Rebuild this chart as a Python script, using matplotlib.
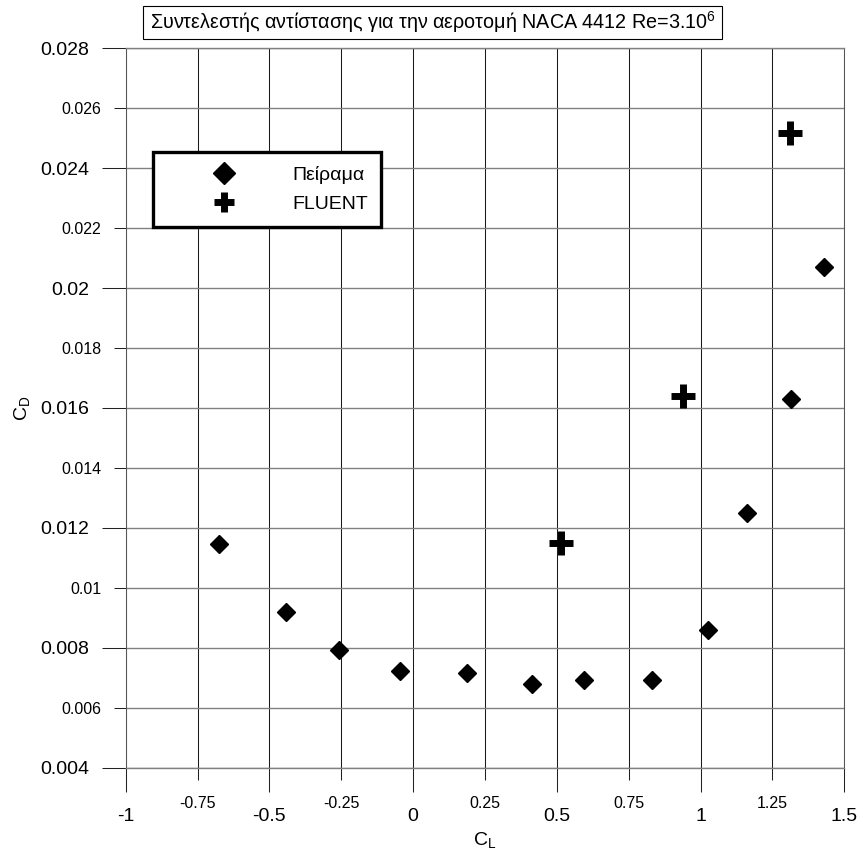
import matplotlib
matplotlib.use('Agg')
import matplotlib.pyplot as plt
from matplotlib.patches import Rectangle
from matplotlib.ticker import FixedLocator, FuncFormatter

plt.rcParams['font.family'] = ['Liberation Sans', 'DejaVu Sans']
plt.rcParams['mathtext.fontset'] = 'custom'
plt.rcParams['mathtext.rm'] = 'Liberation Sans'
plt.rcParams['mathtext.it'] = 'Liberation Sans:italic'
plt.rcParams['mathtext.bf'] = 'Liberation Sans:bold'

# Πείραμα (πειραματικά δεδομένα)
exp_cl = [-0.675, -0.443, -0.258, -0.044, 0.187, 0.412, 0.595, 0.831, 1.025, 1.163, 1.316, 1.428]
exp_cd = [0.01147, 0.00919, 0.00791, 0.00721, 0.00715, 0.00679, 0.00691, 0.00692, 0.00858, 0.01251, 0.0163, 0.0207]

# FLUENT
fluent_cl = [0.516, 0.939, 1.31]
fluent_cd = [0.01151, 0.01639, 0.02517]

x_major = [-1, -0.5, 0, 0.5, 1, 1.5]
x_minor = [-0.75, -0.25, 0.25, 0.75, 1.25]
y_major = [0.004, 0.008, 0.012, 0.016, 0.02, 0.024, 0.028]
y_minor = [0.006, 0.01, 0.014, 0.018, 0.022, 0.026]

fig = plt.figure(figsize=(8.63, 8.55), dpi=100)
ax = fig.add_axes([0.14566, 0.10211, 0.83267, 0.8414])

ax.plot(exp_cl, exp_cd, linestyle='none', marker='D', markersize=9,
        color='black', label='Πείραμα', zorder=3)
ax.plot(fluent_cl, fluent_cd, linestyle='none', marker='+', markersize=17,
        markeredgewidth=5, color='black', label='FLUENT', zorder=3)

ax.set_xlim(-1, 1.5)
ax.set_ylim(0.004, 0.028)

ax.xaxis.set_major_locator(FixedLocator(x_major))
ax.xaxis.set_minor_locator(FixedLocator(x_minor))
ax.yaxis.set_major_locator(FixedLocator(y_major))
ax.yaxis.set_minor_locator(FixedLocator(y_minor))
fmt = FuncFormatter(lambda v, p: '%g' % round(v, 4))
ax.xaxis.set_major_formatter(fmt)
ax.xaxis.set_minor_formatter(fmt)
ax.yaxis.set_major_formatter(fmt)
ax.yaxis.set_minor_formatter(fmt)

ax.tick_params(which='major', direction='out', length=17.3, width=0.75,
               color='#222222', labelsize=14)
ax.tick_params(which='minor', direction='out', length=8.6, width=0.75,
               color='#222222', labelsize=11.5)
ax.tick_params(axis='x', which='both', pad=12)
ax.tick_params(axis='y', which='both', pad=9)

ax.xaxis.grid(True, which='both', color='#1a1a1a', linewidth=0.75)
ax.yaxis.grid(True, which='both', color='#808080', linewidth=1.0)
ax.set_axisbelow(True)

for s in ['left', 'right']:
    ax.spines[s].set_color('#555555')
    ax.spines[s].set_linewidth(0.75)
for s in ['top', 'bottom']:
    ax.spines[s].set_color('#808080')
    ax.spines[s].set_linewidth(1.0)

ax.set_xlabel('$\\mathregular{C_L}$', fontsize=14, labelpad=3)
ax.set_ylabel('$\\mathregular{C_D}$', fontsize=14, labelpad=6)

leg = ax.legend(loc='upper left', bbox_to_anchor=(153 / 863, 1 - 152 / 855),
                bbox_transform=fig.transFigure, borderaxespad=0, numpoints=1,
                fontsize=14, handlelength=5.9, handletextpad=0.55,
                borderpad=0.7, labelspacing=0.62, fancybox=False,
                framealpha=1, edgecolor='black')
leg.get_frame().set_linewidth(2.4)
leg.legend_handles[0].set_markersize(11)
leg.legend_handles[1].set_markersize(15)

# πλαίσιο τίτλου
fig.add_artist(Rectangle((143 / 863, 1 - 39 / 855), 579 / 863, 33.3 / 855,
                         transform=fig.transFigure, fill=False,
                         edgecolor='black', linewidth=0.8))
fig.text(432.5 / 863, 1 - 22.4 / 855,
         'Συντελεστής αντίστασης για την αεροτομή NACA 4412 Re=3.10$^{6}$',
         ha='center', va='center', fontsize=14.2)

fig.savefig('out.png', dpi=100)
